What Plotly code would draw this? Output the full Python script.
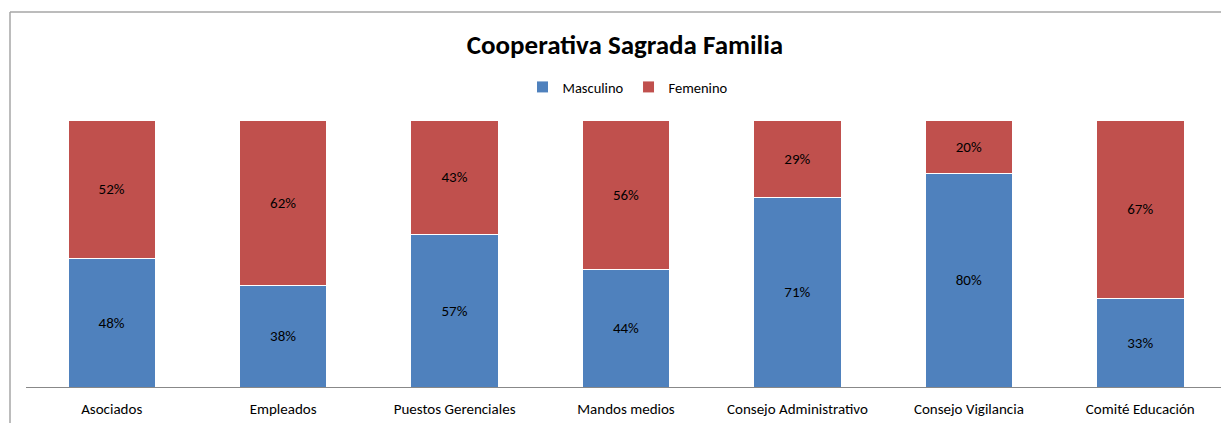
import plotly.graph_objects as go

# Data
categories = ["Asociados", "Empleados", "Puestos Gerenciales", "Mandos medios",
              "Consejo Administrativo", "Consejo Vigilancia", "Comité Educación"]
masculino = [48, 38, 57, 44, 71, 80, 33]
femenino = [52, 62, 43, 56, 29, 20, 67]

FONT = "Calibri, Carlito, Lato, sans-serif"
OFF = 8  # page body margin offset
W, H = 1229 - OFF, 423 - OFF
L, R = 26 - OFF, W - (1226 - OFF)
T, B = 120 - OFF, H - (387 - OFF)
pw, ph = W - L - R, H - T - B


def px_x(v):
    return (v - OFF - L) / pw


def px_y(v):
    return (H - B - (v - OFF)) / ph


fig = go.Figure()

fig.add_trace(go.Bar(
    x=categories, y=masculino, name="Masculino",
    marker=dict(color="#4F81BD", line=dict(color="#ffffff", width=1)),
    texttemplate="%{y}%", textposition="inside", insidetextanchor="middle",
    textfont=dict(color="#000000", size=15, family=FONT),
))
fig.add_trace(go.Bar(
    x=categories, y=femenino, name="Femenino",
    marker=dict(color="#C0504D", line=dict(color="#ffffff", width=1)),
    texttemplate="%{y}%", textposition="inside", insidetextanchor="middle",
    textfont=dict(color="#000000", size=15, family=FONT),
))

# Outer chart border (left and top visible)
fig.add_shape(type="line", xref="paper", yref="paper",
              x0=px_x(10), x1=px_x(10), y0=px_y(12), y1=px_y(450),
              line=dict(color="#a6a6a6", width=1.5))
fig.add_shape(type="line", xref="paper", yref="paper",
              x0=px_x(10), x1=px_x(1260), y0=px_y(12), y1=px_y(12),
              line=dict(color="#a6a6a6", width=1.5))

fig.update_layout(
    width=W, height=H,
    margin=dict(l=L, r=R, t=T, b=B),
    barmode="stack",
    bargap=0.49,
    plot_bgcolor="#ffffff",
    paper_bgcolor="#ffffff",
    font=dict(family=FONT, size=15, color="#000000"),
    title=dict(text="<b>Cooperativa Sagrada Familia</b>",
               x=(625 - OFF) / W, xanchor="center",
               y=1 - (45 - OFF) / H, yanchor="middle",
               font=dict(size=27, family=FONT, color="#000000")),
    legend=dict(orientation="h", x=px_x(628), xanchor="center",
                y=px_y(87), yanchor="middle",
                font=dict(size=14.5, family=FONT),
                itemwidth=30, traceorder="normal"),
    showlegend=True,
)
fig.update_xaxes(showline=True, linecolor="#888888", linewidth=1,
                 ticks="", ticklabelstandoff=8,
                 tickfont=dict(size=15, family=FONT))
fig.update_yaxes(range=[0, 100], visible=False, showgrid=False)

fig.write_html("out.html")
